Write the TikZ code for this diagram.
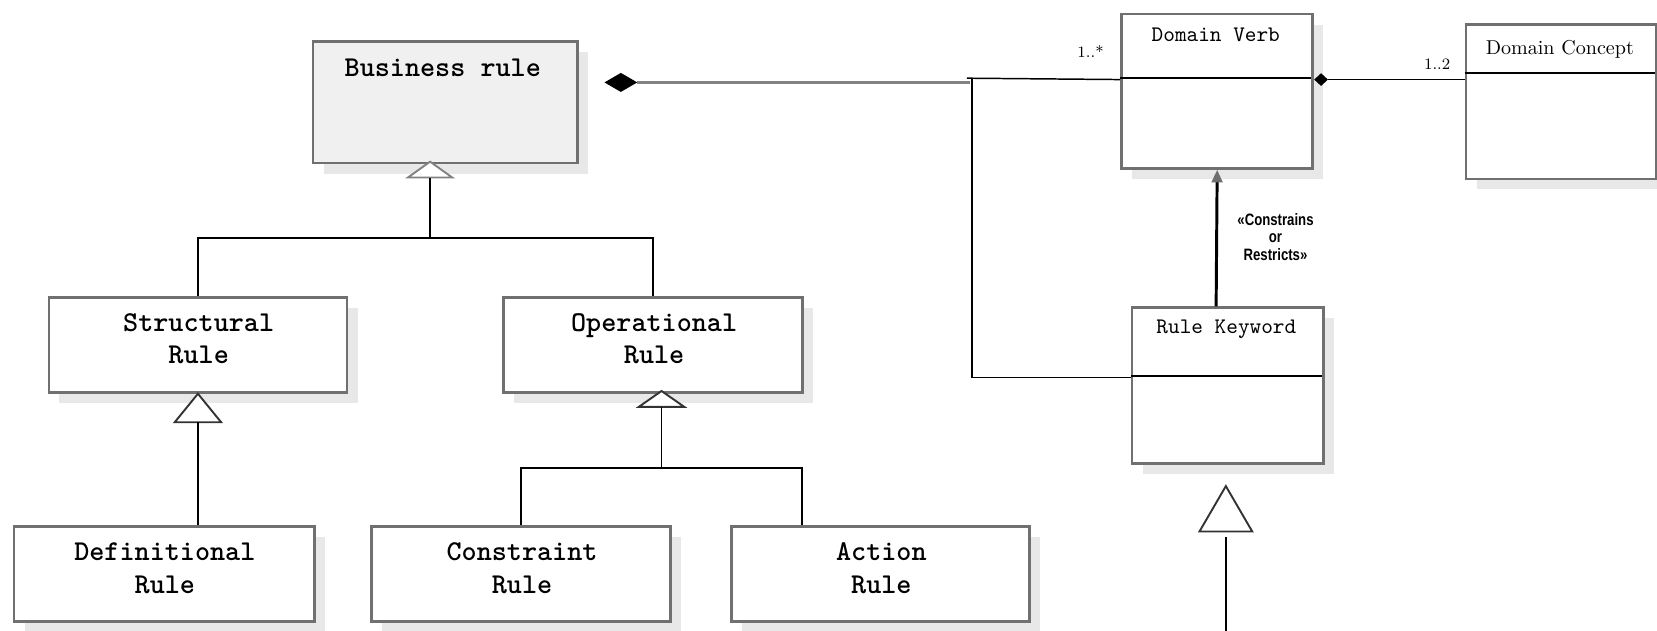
\documentclass[tikz,border=0pt]{standalone}
\usepackage{fontspec}
\newfontfamily\umlsans[FakeStretch=0.8]{Liberation Sans}
\usetikzlibrary{shadows,arrows.meta}
\definecolor{boxline}{RGB}{112,112,112}
\definecolor{shade}{RGB}{232,232,232}
\definecolor{paper}{RGB}{240,240,240}
\definecolor{linkgray}{RGB}{130,130,130}
\definecolor{tipgray}{RGB}{110,110,110}

\begin{document}
\begin{tikzpicture}[x=0.5pt,y=-0.5pt,
  classbox/.style={draw=boxline, line width=1.3pt, fill=white, inner sep=0pt, anchor=north west,
    drop shadow={shadow xshift=5pt, shadow yshift=-5pt, fill=shade, opacity=1}},
  divider/.style={line width=1.1pt, draw=black},
  conn/.style={line width=0.7pt, draw=black},
  gentri/.style={line width=0.9pt, draw=black!80, fill=white, line join=miter},
  boldname/.style={font=\ttfamily\bfseries\fontsize{13.6}{15.5}\selectfont, align=center, inner sep=0pt},
  plainname/.style={font=\ttfamily\fontsize{10.5}{11}\selectfont, inner sep=0pt},
  mult/.style={font=\fontsize{7.5}{8}\selectfont, inner sep=0pt},
  stereo/.style={font=\umlsans\bfseries\fontsize{7.8}{8.25}\selectfont, align=center, inner sep=0pt}]

\useasboundingbox (0,0) rectangle (1568,597);

% ---- class boxes ----
\node[classbox, fill=paper, minimum width=125pt, minimum height=57.5pt] (br) at (295,38) {};
\node[classbox, minimum width=141pt, minimum height=45pt] (sr) at (45,280) {};
\node[classbox, minimum width=141.5pt, minimum height=45pt] (orl) at (475,280) {};
\node[classbox, minimum width=142pt, minimum height=45pt] (dr) at (12,497) {};
\node[classbox, minimum width=141.5pt, minimum height=45pt] (cr) at (350,497) {};
\node[classbox, minimum width=141pt, minimum height=45pt] (ar) at (691,497) {};
\node[classbox, minimum width=90.5pt, minimum height=73pt] (dv) at (1060,12) {};
\node[classbox, minimum width=90pt, minimum height=73pt] (dc) at (1386,22) {};
\node[classbox, minimum width=90.5pt, minimum height=73.5pt] (rk) at (1070,290) {};

% compartment dividers
\draw[divider] (1060,74) -- (1241,74);
\draw[divider] (1386,69) -- (1566,69);
\draw[divider] (1070,356) -- (1251,356);

% ---- class names ----
\node[boldname] (brt) at (419,64) {Business rule};
\node[boldname] (srt) at (188,320.5) {Structural\\Rule};
\node[boldname] (ort) at (619,320.5) {Operational\\Rule};
\node[boldname] (drt) at (156,537.5) {Definitional\\Rule};
\node[boldname] (crt) at (494,537.5) {Constraint\\Rule};
\node[boldname] (art) at (834,537.5) {Action\\Rule};
\node[plainname] (dvt) at (1150.5,33) {Domain Verb};
\node[plainname] (rkt) at (1160.5,312) {Rule Keyword};
\node[font=\fontsize{9.5}{11}\selectfont, inner sep=0pt] (dct) at (1476,47) {Domain Concept};

% ---- generalisation: Business rule ----
\coordinate (brgen) at (407,153);
\draw[line width=0.9pt, draw=linkgray, fill=white] (brgen) -- ++(-21,15) -- ++(42,0) -- cycle;
\draw[conn] (brgen) ++(0,15) -- ++(0,57) coordinate (brbar);
\draw[conn] (brbar) -| (sr.north);
\draw[conn] (brbar) -| (orl.north);

% ---- generalisation: Structural rule ----
\draw[gentri] (sr.south) -- ++(-22,27) -- ++(44,0) -- cycle;
\draw[conn] (sr.south) ++(0,27) -- (sr.south |- dr.north);

% ---- generalisation: Operational rule ----
\coordinate (orgen) at (626,370);
\draw[gentri] (orgen) -- ++(-21.5,15) -- ++(43,0) -- cycle;
\draw[conn] (orgen) ++(0,15) -- ++(0,58) coordinate (orbar);
\draw[conn] (orbar) -| (cr.north);
\draw[conn] (orbar) -| ([xshift=34pt]ar.north west);

% ---- composition: Business rule to Domain Verb / Rule Keyword ----
\coordinate (brdia) at (572,78);
\fill[black] (brdia) -- ++(15.5,-9) -- ++(15.5,9) -- ++(-15.5,9) -- cycle;
\draw[line width=1.5pt, draw=linkgray] (603,78) -- (918,78);
\coordinate (junc) at (920,74);
\draw[conn] (915,74) -- ([yshift=5.5pt]dv.west);
\draw[conn] (junc) |- ([yshift=3.75pt]rk.west);
\node[mult, anchor=base] (m1) at (1032,54) {1..*};

% ---- composition: Domain Verb to Domain Concept ----
\fill[black] ([yshift=5.5pt]dv.east) -- ++(6.5,-6) -- ++(6.5,6) -- ++(-6.5,6) -- cycle;
\draw[conn] ([xshift=6.5pt,yshift=5.5pt]dv.east) -- ([yshift=10.5pt]dc.west);
\node[mult, anchor=base] (m2) at (1360,66) {1..2};

% ---- dependency: Rule Keyword constrains Domain Verb ----
\draw[line width=1.4pt, -{Triangle[length=6pt, width=5pt, color=tipgray]}]
  ([xshift=-5.5pt]rk.north) -- (dv.south);
\node[stereo] (crl) at (1207,224) {«Constrains\\or\\Restricts»};

% ---- generalisation below Rule Keyword ----
\coordinate (rkgen) at (1160,460);
\draw[gentri] (rkgen) -- ++(-25,43) -- ++(50,0) -- cycle;
\coordinate (rkfoot) at (1160,600);
\draw[conn] (rkgen) ++(0,48) -- (rkfoot);

\end{tikzpicture}
\end{document}
